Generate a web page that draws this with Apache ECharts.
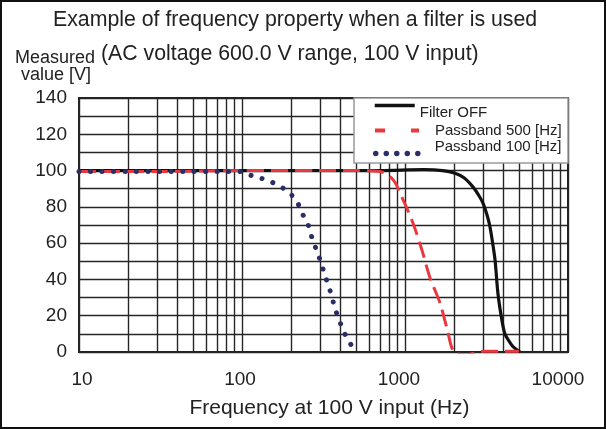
<!DOCTYPE html>
<html>
<head>
<meta charset="utf-8">
<script src="https://cdn.jsdelivr.net/npm/echarts@6/dist/echarts.min.js"></script>
<style>
  html, body { margin: 0; padding: 0; background: #fff; }
  #main { width: 606px; height: 429px; }
</style>
</head>
<body>
<div id="main"></div>
<script>
// Filter OFF (solid black)
var offFreq = [10, 50, 200, 700, 1300, 1700, 2030, 2300, 2610, 2850, 3010, 3200, 3320, 3450, 3570, 3720, 3940, 4100, 4350, 4600, 5080];
var offVal  = [100, 100, 100, 100, 100.5, 100, 98.5, 96, 91, 86, 82, 75, 69, 60, 50.5, 32, 17, 10, 6, 3, 0];

// Passband 500 [Hz] (red dashed)
var p500Freq = [10, 30, 100, 300, 500, 700, 844, 972, 1120, 1272, 1423, 1640, 1810, 2000, 2400, 3000, 5000];
var p500Val  = [99.5, 99.5, 100, 100, 100, 99.5, 95, 84, 71, 56, 41, 27, 13, 0, -1.5, 0.4, 0.4];

// Passband 100 [Hz] (navy dotted)
var p100Freq = [10, 20, 50, 80, 99, 115, 133, 155, 181, 206, 224, 240, 258, 269, 288, 305, 323, 342, 357, 372, 394, 417, 447, 486, 505];
var p100Val  = [99.5, 99.5, 99.5, 99.5, 99.4, 97.2, 95.6, 93.3, 90, 85.6, 80.6, 74.4, 68.9, 62.8, 55.6, 49.4, 42.2, 35.6, 30, 23.9, 17.8, 12.2, 6.7, 1.7, 0];

var seriesNames = ['Filter OFF', 'Passband 500 [Hz]', 'Passband 100 [Hz]'];
var xTickLabels = [10, 100, 1000, 10000];
var yTickLabels = [0, 20, 40, 60, 80, 100, 120, 140];

function zip(xs, ys) {
  return xs.map(function (x, i) { return [x, ys[i]]; });
}

// minor log gridlines 20..90, 200..900, 2000..9000
var minorLines = [];
for (var d = 10; d < 10000; d *= 10) {
  for (var m = 2; m <= 9; m++) minorLines.push({ xAxis: d * m });
}

var FONT = 'Liberation Sans';
var GRID = '#262626';
var BLACK = '#111', RED = '#ea383e', NAVY = '#2a2d66';
var noSymbol = { color: 'rgba(0,0,0,0)', borderWidth: 0, opacity: 0 };

// legend text block, shifted with padding
function legendText(pad) {
  return {
    formatter: '{t|{name}}',
    textStyle: { rich: { t: { fontSize: 15, color: '#222', fontFamily: FONT, padding: pad } } }
  };
}

var lgOff = legendText([14, 0, 0, 0]);
var lg500 = legendText([0, 0, 0, 11]);
var lg100 = legendText([0, 0, 14, 8]);

var chart = echarts.init(document.getElementById('main'));
chart.setOption({
  animation: false,
  backgroundColor: '#fff',
  textStyle: { fontFamily: FONT },
  title: [
    { text: 'Example of frequency property when a filter is used', left: 53, top: 10, padding: 0,
      textStyle: { fontSize: 21.3, fontWeight: 'normal', color: '#222', fontFamily: FONT } },
    { text: '(AC voltage 600.0 V range, 100 V input)', left: 101, top: 44, padding: 0,
      textStyle: { fontSize: 21.3, fontWeight: 'normal', color: '#222', fontFamily: FONT } },
    { text: 'Measured', left: 15, top: 49, padding: 0,
      textStyle: { fontSize: 18, fontWeight: 'normal', color: '#222', fontFamily: FONT } },
    { text: 'value [V]', left: 21, top: 66, padding: 0,
      textStyle: { fontSize: 18, fontWeight: 'normal', color: '#222', fontFamily: FONT } }
  ],
  grid: {
    left: 79, right: 38, top: 98, bottom: 77,
    show: true, borderColor: '#222', borderWidth: 2, backgroundColor: '#fff'
  },
  legend: [
    { data: [{ name: seriesNames[0], itemStyle: noSymbol, lineStyle: { width: 3.5 } }],
      left: 373, top: 100, padding: 0, itemWidth: 40, itemHeight: 14,
      formatter: lgOff.formatter, textStyle: lgOff.textStyle, z: 60 },
    { data: [{ name: seriesNames[1], itemStyle: noSymbol, lineStyle: { type: [10, 26], width: 4 } }],
      left: 373, top: 123, padding: 0, itemWidth: 44, itemHeight: 14,
      formatter: lg500.formatter, textStyle: lg500.textStyle, z: 60 },
    { data: [{ name: seriesNames[2], itemStyle: noSymbol, lineStyle: { type: [0.01, 10.5], width: 5.5, cap: 'round' } }],
      left: 373, top: 139, padding: 0, itemWidth: 46, itemHeight: 14,
      formatter: lg100.formatter, textStyle: lg100.textStyle, z: 60 }
  ],
  graphic: [
    { type: 'rect', z: 50, shape: { x: 354, y: 98, width: 214, height: 65 },
      style: { fill: '#fff', stroke: '#999', lineWidth: 1.5 } },
    { type: 'rect', z: 100, shape: { x: 1, y: 1, width: 604, height: 427 },
      style: { fill: 'none', stroke: '#111', lineWidth: 2 } }
  ],
  xAxis: {
    type: 'log', logBase: 10, min: 10, max: 10000,
    name: 'Frequency at 100 V input (Hz)', nameLocation: 'middle', nameGap: 46,
    nameTextStyle: { fontSize: 21, color: '#222', fontFamily: FONT, padding: [0, 0, 0, 12] },
    axisLine: { show: false }, axisTick: { show: false },
    axisLabel: {
      margin: 18, color: '#222', fontSize: 19,
      formatter: function (v) { return xTickLabels.indexOf(v) >= 0 ? '{t' + v + '|' + v + '}' : ''; },
      rich: {
        t10: { fontSize: 19, color: '#222', fontFamily: FONT, padding: [0, 0, 0, 6] },
        t100: { fontSize: 19, color: '#222', fontFamily: FONT, padding: [0, 4, 0, 0] },
        t1000: { fontSize: 19, color: '#222', fontFamily: FONT, padding: [0, 12, 0, 0] },
        t10000: { fontSize: 19, color: '#222', fontFamily: FONT, padding: [0, 20, 0, 0] }
      }
    },
    splitLine: { show: true, lineStyle: { color: GRID, width: 1.4 } }
  },
  yAxis: {
    type: 'value', min: 0, max: 140, interval: 10,
    axisLine: { show: false }, axisTick: { show: false },
    axisLabel: {
      margin: 12, color: '#222', fontSize: 19, fontFamily: FONT,
      formatter: function (v) { return yTickLabels.indexOf(v) >= 0 ? String(v) : ''; }
    },
    splitLine: { show: true, lineStyle: { color: GRID, width: 1.4 } }
  },
  series: [
    {
      name: '_grid', type: 'line', data: [], silent: true, z: 1,
      markLine: {
        silent: true, symbol: 'none', z: 1, animation: false,
        label: { show: false },
        lineStyle: { color: GRID, width: 1.4, type: 'solid' },
        emphasis: { disabled: true },
        data: minorLines
      }
    },
    {
      name: seriesNames[0], type: 'line', data: zip(offFreq, offVal),
      showSymbol: false, symbol: 'none', smooth: 0.3, z: 3,
      itemStyle: { color: BLACK },
      lineStyle: { color: BLACK, width: 3.2 }
    },
    {
      name: seriesNames[1], type: 'line', data: zip(p500Freq, p500Val),
      showSymbol: false, symbol: 'none', smooth: 0.3, z: 4,
      itemStyle: { color: RED },
      lineStyle: { color: RED, width: 3, type: [17, 7] }
    },
    {
      name: seriesNames[2], type: 'line', data: zip(p100Freq, p100Val),
      showSymbol: false, symbol: 'none', smooth: 0.3, z: 5,
      itemStyle: { color: NAVY },
      lineStyle: { color: NAVY, width: 5, type: [0.01, 11.5], cap: 'round' }
    }
  ]
});
</script>
</body>
</html>
